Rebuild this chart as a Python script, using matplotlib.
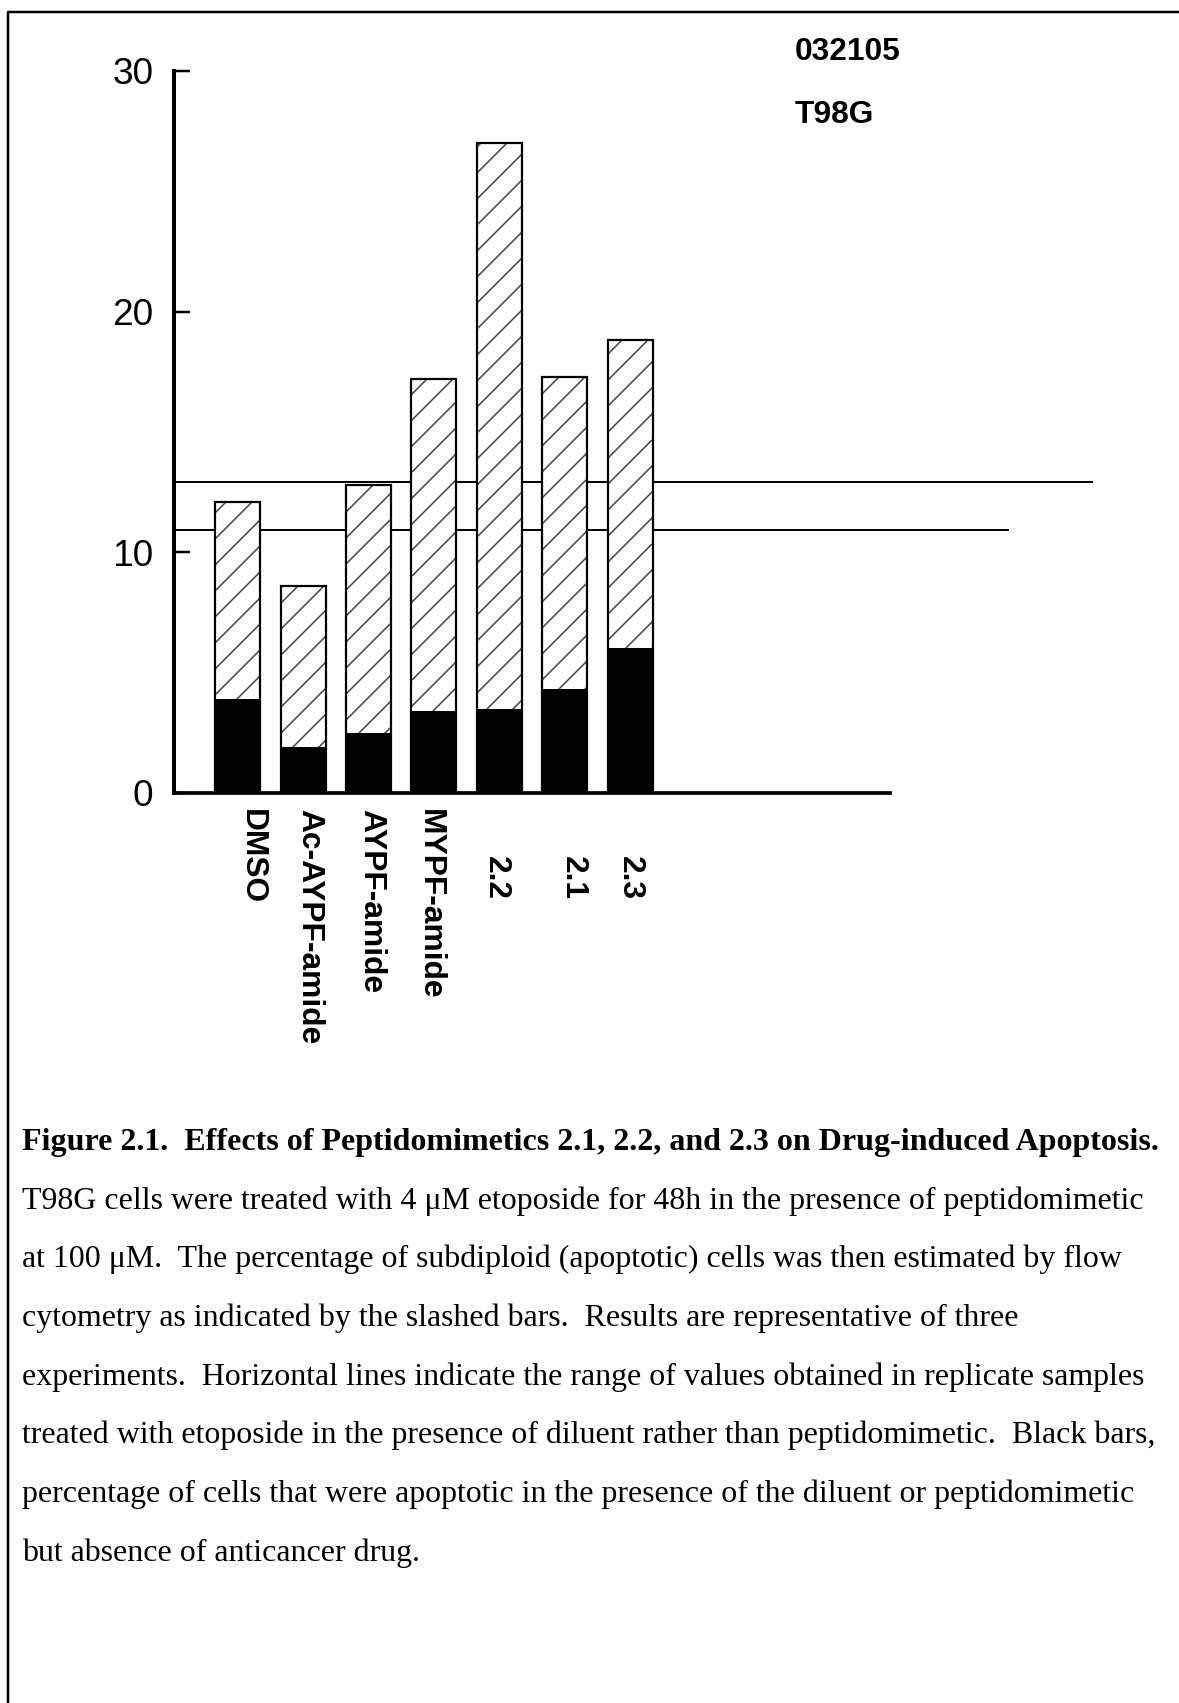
import matplotlib
matplotlib.use("Agg")
import matplotlib.pyplot as plt
from matplotlib.transforms import ScaledTranslation
from matplotlib.lines import Line2D
import numpy as np

# ---------------- data ----------------
categories = ["DMSO", "Ac-AYPF-amide", "AYPF-amide", "MYPF-amide", "2.2", "2.1", "2.3"]
total_apoptosis = [12.1, 8.6, 12.8, 17.2, 27.0, 17.3, 18.8]   # slashed bars (with etoposide)
basal_apoptosis = [3.9, 1.9, 2.5, 3.4, 3.5, 4.3, 6.0]         # black bars (no drug)
range_low = 10.9
range_high = 12.9
yticks = [0, 10, 20, 30]
header_lines = ["032105", "T98G"]
caption_title = "Figure 2.1.  Effects of Peptidomimetics 2.1, 2.2, and 2.3 on Drug-induced Apoptosis."
caption_lines = [
    "T98G cells were treated with 4 \u03bcM etoposide for 48h in the presence of peptidomimetic",
    "at 100 \u03bcM.  The percentage of subdiploid (apoptotic) cells was then estimated by flow",
    "cytometry as indicated by the slashed bars.  Results are representative of three",
    "experiments.  Horizontal lines indicate the range of values obtained in replicate samples",
    "treated with etoposide in the presence of diluent rather than peptidomimetic.  Black bars,",
    "percentage of cells that were apoptotic in the presence of the diluent or peptidomimetic",
    "but absence of anticancer drug.",
]

# ---------------- style ----------------
W, H, DPI = 1179, 1703, 78


def pt(px):
    """convert pixels to points at the figure dpi"""
    return px * 72.0 / DPI


plt.rcParams["hatch.linewidth"] = pt(1.5)
plt.rcParams["hatch.color"] = "#404040"
sans = ["Liberation Sans", "DejaVu Sans"]
serif = ["Liberation Serif", "DejaVu Serif"]

fig = plt.figure(figsize=(W / DPI, H / DPI), dpi=DPI)
fig.patch.set_facecolor("white")


def fx(px):
    return px / W


def fy(py):
    return 1 - py / H


ax_left, ax_right, ax_top, ax_bot = 174, 890, 71, 792.7
ax = fig.add_axes([fx(ax_left), fy(ax_bot), fx(ax_right - ax_left), (ax_bot - ax_top) / H])

x = np.arange(len(categories))
bw = 0.69
ax.bar(x, total_apoptosis, width=bw, color="white", edgecolor="#404040",
       hatch="/", linewidth=0, zorder=2)
ax.bar(x, basal_apoptosis, width=bw, color="black", edgecolor="black", linewidth=0, zorder=3)
ax.bar(x, total_apoptosis, width=bw, fill=False, edgecolor="black", linewidth=pt(2.2), zorder=4)

ax.set_xlim(-0.974, 9.974)
ax.set_ylim(0, 30)

# range lines (extend beyond the axes to the right)
ax.plot([-0.974, 11.80], [range_low, range_low], color="black", lw=pt(2.0),
        clip_on=False, zorder=1, solid_capstyle="butt")
ax.plot([-0.974, 13.08], [range_high, range_high], color="black", lw=pt(2.0),
        clip_on=False, zorder=1, solid_capstyle="butt")

for s in ["top", "right"]:
    ax.spines[s].set_visible(False)
ax.spines["left"].set_linewidth(pt(4.0))
ax.spines["bottom"].set_linewidth(pt(3.7))

ax.set_yticks(yticks)
ax.set_yticklabels([str(t) for t in yticks], fontsize=pt(37), family=sans)
ax.tick_params(axis="y", direction="in", length=pt(16), width=pt(2.5), pad=pt(20.5))
ax.set_xticks(x)
ax.set_xticklabels(categories, rotation=-90, fontsize=pt(31.7), fontweight="bold",
                   family=sans, va="top", ha="center")
ax.tick_params(axis="x", length=0, pad=pt(16.5))

# small per-label offsets (pixels) to mimic the original layout
dxs = [14, 6.5, 3, -4.5, -3, 8.6, 0]
dys = [0, 0, 0, 0, 47, 47, 47]
for lab, dx, dy in zip(ax.get_xticklabels(), dxs, dys):
    lab.set_transform(lab.get_transform() + ScaledTranslation(dx / DPI, -dy / DPI, fig.dpi_scale_trans))

# header text
fig.text(fx(795), fy(59.5), header_lines[0], fontsize=pt(31.7), fontweight="bold",
         family=sans, va="baseline", ha="left")
fig.text(fx(795), fy(123), header_lines[1], fontsize=pt(31.7), fontweight="bold",
         family=sans, va="baseline", ha="left")

# caption
cap_x = fx(22)
base0 = 1150
step = 58.7
fig.text(cap_x, fy(base0), caption_title, fontsize=pt(32.0), fontweight="bold",
         family=serif, va="baseline", ha="left")
for i, line in enumerate(caption_lines):
    fig.text(cap_x, fy(base0 + step * (i + 1)), line, fontsize=pt(31.9), family=serif,
             va="baseline", ha="left")

# page frame (left and top edges)
fig.add_artist(Line2D([fx(8), fx(8), fx(W + 5)], [0, fy(12), fy(12)],
                      transform=fig.transFigure, color="black", lw=pt(2.5)))

fig.savefig("out.png", dpi=DPI, facecolor="white")
